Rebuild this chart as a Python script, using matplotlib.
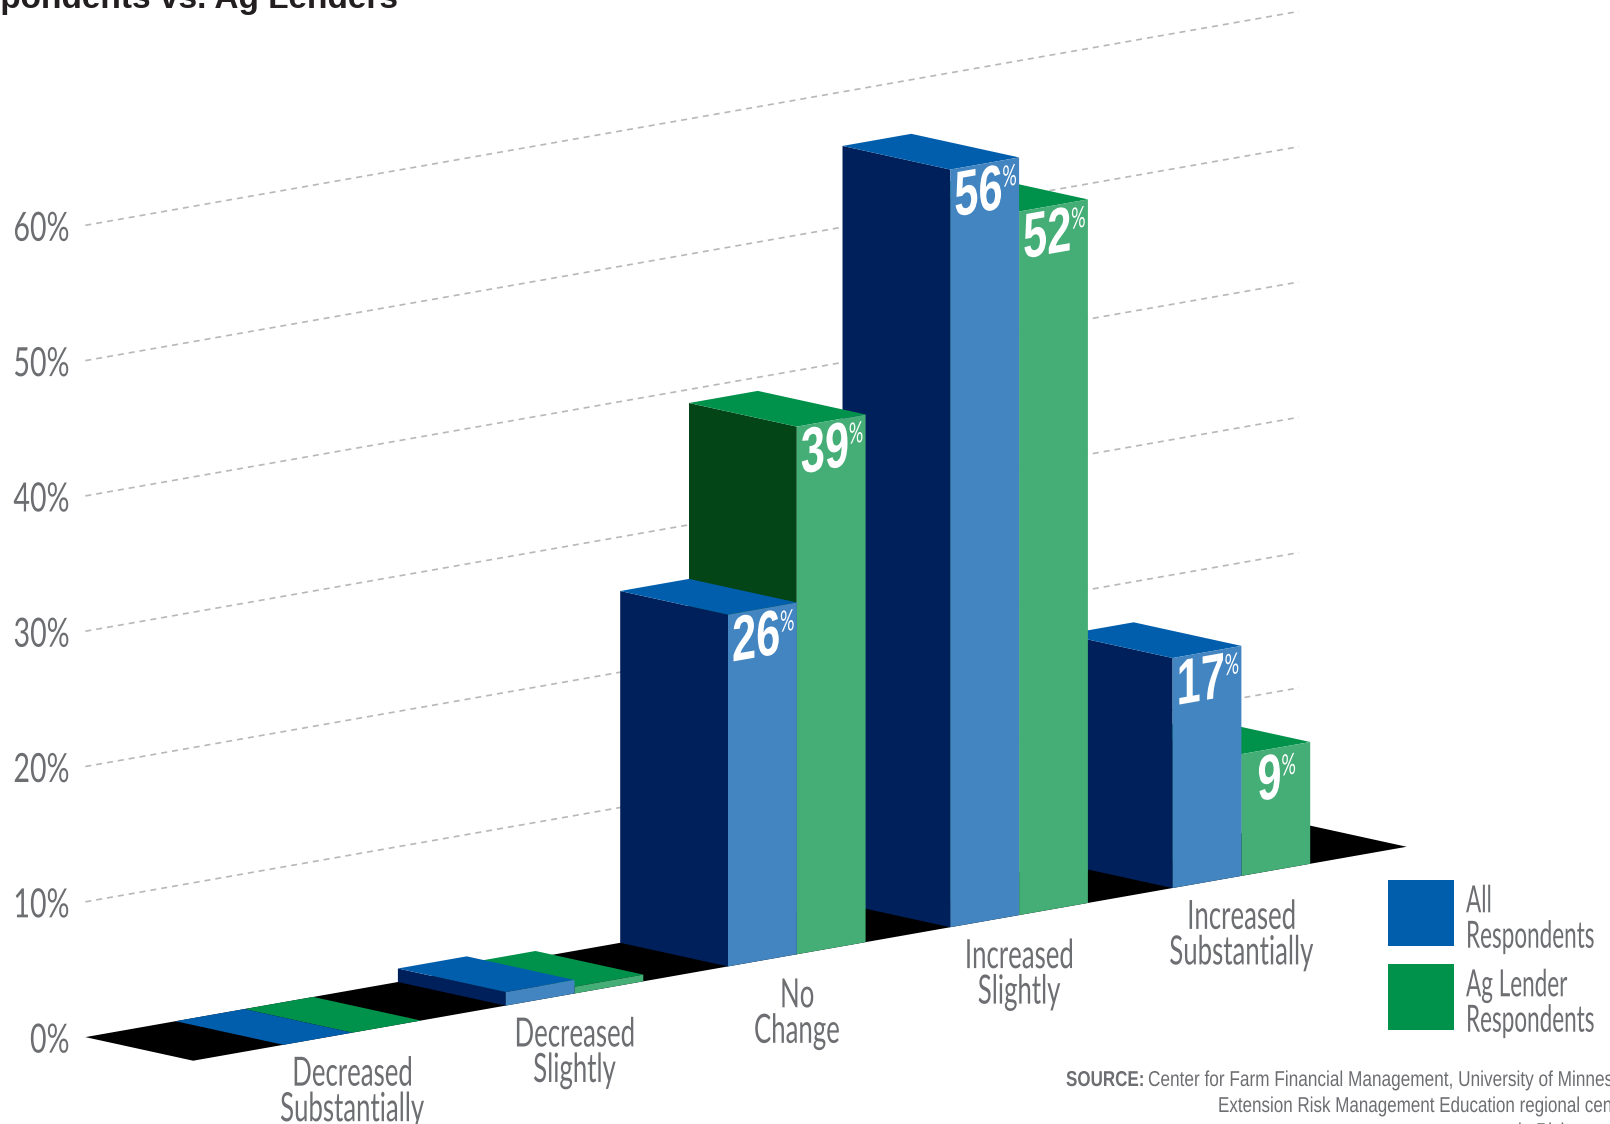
import math
import matplotlib
matplotlib.use('Agg')
import matplotlib.pyplot as plt
from matplotlib.patches import Polygon, Rectangle
from matplotlib.patheffects import AbstractPathEffect
from matplotlib.transforms import Affine2D

# Data
categories = ['Decreased\nSubstantially', 'Decreased\nSlightly', 'No\nChange',
              'Increased\nSlightly', 'Increased\nSubstantially']
all_respondents = [0, 1, 26, 56, 17]
ag_lenders = [0, 0.5, 39, 52, 9]
all_labels = ['', '', '26', '56', '17']
ag_labels = ['', '', '39', '52', '9']
tick_values = [0, 10, 20, 30, 40, 50, 60]
grid_values = [10, 20, 30, 40, 50, 60]
series_names = ['All\nRespondents', 'Ag Lender\nRespondents']

# Fake 3D projection, in image pixels
ORIGIN = (283.4, 1044.8)
CAT_STEP = 222.3
BAR_WIDTH = 68.8
SLOPE = -0.1763
DEPTH = (-107.8, -23.6)
PCT = 13.53
FLOOR_LEFT = -0.406
FLOOR_RIGHT = 5.053

THIN = ['Lato', 'Liberation Sans', 'DejaVu Sans']
SANS = ['Liberation Sans', 'DejaVu Sans']
GREY = '#6d6e71'
ANGLE = math.degrees(math.atan(-SLOPE))


class Squeeze(AbstractPathEffect):
    # no condensed font is installed, so narrow the real text when it is drawn
    def __init__(self, sx, pivot='left', shear=0.0):
        super().__init__()
        self.sx = sx
        self.pivot = pivot
        self.shear = shear

    def draw_path(self, renderer, gc, tpath, affine, rgbFace=None):
        box = tpath.get_extents()
        c = {'left': 0.0, 'center': (box.x0 + box.x1) / 2, 'right': box.x1}[self.pivot]
        t = (Affine2D().translate(-c, 0).scale(self.sx, 1).translate(c, 0)
             .skew_deg(0, self.shear))
        renderer.draw_path(gc, tpath, t + affine, rgbFace)


def narrow_text(x, y, s, sx, pivot='left', shear=0.0, **kw):
    return ax.text(x, y, s, path_effects=[Squeeze(sx, pivot, shear)], **kw)


def project(pos, depth=0.0, pct=0.0):
    # pos counts category steps along the floor, depth 0 front to 1 back
    x = ORIGIN[0] + pos * CAT_STEP + depth * DEPTH[0]
    y = ORIGIN[1] + pos * CAT_STEP * SLOPE + depth * DEPTH[1] - pct * PCT
    return (x, y)


fig = plt.figure(figsize=(16.1, 11.24), dpi=100)
ax = fig.add_axes([0, 0, 1, 1])
ax.set_xlim(0, 1610)
ax.set_ylim(1124, 0)
ax.axis('off')

# Grid on the back wall
for v in grid_values:
    p0 = project(FLOOR_LEFT, 1, v)
    p1 = project(FLOOR_RIGHT, 1, v)
    ax.plot([p0[0], p1[0]], [p0[1], p1[1]], color='#b8b8b8', lw=1.2,
            dashes=(3.6, 3.0), zorder=1)

for v in tick_values:
    p = project(FLOOR_LEFT, 1, v)
    narrow_text(70, p[1] + 4, f'{v}%', 0.71, 'right', ha='right', va='center',
                fontsize=29, color=GREY, family=THIN, zorder=5)

# Floor
floor = [project(FLOOR_LEFT, 1), project(FLOOR_LEFT, 0),
         project(FLOOR_RIGHT, 0), project(FLOOR_RIGHT, 1)]
ax.add_patch(Polygon(floor, closed=True, fc='black', ec='none', zorder=2))


def draw_bar(pos, value, top_col, face_col, side_col, z):
    w = BAR_WIDTH / CAT_STEP
    side = [project(pos, 0, 0), project(pos, 1, 0),
            project(pos, 1, value), project(pos, 0, value)]
    face = [project(pos, 0, 0), project(pos + w, 0, 0),
            project(pos + w, 0, value), project(pos, 0, value)]
    top = [project(pos, 0, value), project(pos + w, 0, value),
           project(pos + w, 1, value), project(pos, 1, value)]
    ax.add_patch(Polygon(side, closed=True, fc=side_col, ec='none', zorder=z))
    ax.add_patch(Polygon(top, closed=True, fc=top_col, ec='none', zorder=z))
    ax.add_patch(Polygon(face, closed=True, fc=face_col, ec='none', zorder=z))


def bar_label(pos, value, text):
    if not text:
        return
    x, y = project(pos, 0, value)
    left = x + (16 if len(text) == 1 else 4)
    narrow_text(left, y + 47, text, 0.68, 'left', ANGLE, color='white',
                fontsize=46, fontweight='bold', family=SANS, ha='left',
                va='baseline', zorder=40)
    step = 24 * len(text)
    narrow_text(left + step, y + 47 - step * 0.1763 - 21, '%', 0.62, 'left', ANGLE,
                color='white', fontsize=21, family=THIN, ha='left',
                va='baseline', zorder=40)


# Painted right to left, nearer bars cover the ones behind
w_cat = BAR_WIDTH / CAT_STEP
for i in range(len(categories) - 1, -1, -1):
    z = 10 + 2 * (len(categories) - i)
    draw_bar(i + w_cat, ag_lenders[i], '#00924a', '#45ad76', '#044518', z)
    draw_bar(i, all_respondents[i], '#005eac', '#4285c1', '#00205b', z + 1)
    bar_label(i + w_cat, ag_lenders[i], ag_labels[i])
    bar_label(i, all_respondents[i], all_labels[i])

# Category labels
for i, name in enumerate(categories):
    x, y = project(i + w_cat)
    narrow_text(x, y + 23, name, 0.64, 'center', ha='center', va='top',
                fontsize=29, color=GREY, family=THIN, linespacing=0.95, zorder=5)

# Legend
legend_cols = ['#005eac', '#00924a']
legend_y = [880, 964]
for name, col, ly in zip(series_names, legend_cols, legend_y):
    ax.add_patch(Rectangle((1388, ly), 66, 66, fc=col, ec='none', zorder=5))
    narrow_text(1466, ly + 39, name, 0.6, 'left', ha='left', va='center',
                fontsize=27, color=GREY, family=THIN, linespacing=0.98, zorder=5)

# Title and source, both cropped by the edge of the picture
ax.text(398, 8, 'Respondents vs. Ag Lenders', ha='right', va='baseline',
        fontsize=24, fontweight='bold', color='#231f20', family=SANS,
        clip_on=False, zorder=5)

narrow_text(1066, 1086, 'SOURCE:', 0.79, ha='left', va='baseline', fontsize=15.5,
            fontweight='bold', color=GREY, family=SANS, zorder=5)
narrow_text(1148, 1086, 'Center for Farm Financial Management, University of Minnesota',
            0.8, ha='left', va='baseline', fontsize=15.5, color=GREY, family=SANS,
            clip_on=False, zorder=5)
narrow_text(1218, 1112, 'Extension Risk Management Education regional centers',
            0.79, ha='left', va='baseline', fontsize=15.5, color=GREY, family=SANS,
            clip_on=False, zorder=5)
narrow_text(1518, 1138, 'in Risk', 0.79, ha='left', va='baseline', fontsize=15.5,
            color=GREY, family=SANS, clip_on=False, zorder=5)

fig.savefig('out.png', dpi=100, facecolor='white')
